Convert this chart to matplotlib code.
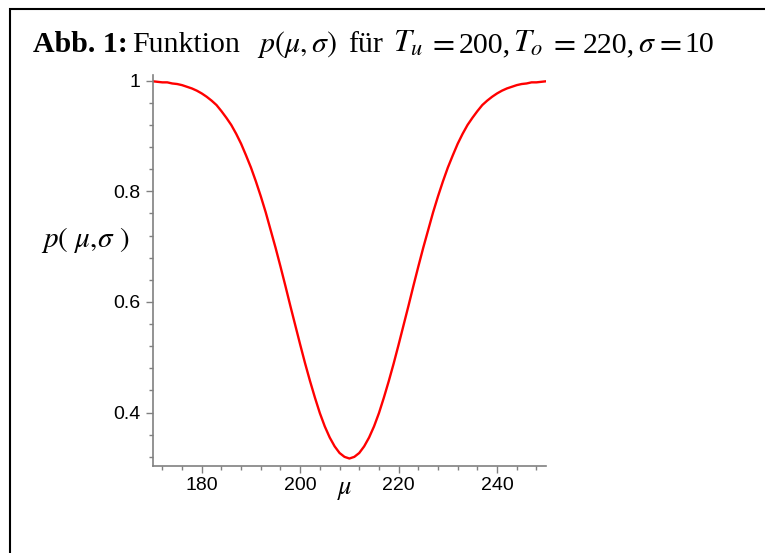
import matplotlib
matplotlib.use("Agg")
import matplotlib.pyplot as plt
from matplotlib.ticker import MultipleLocator
from matplotlib.patches import Rectangle

mu = list(range(170, 251))
p_left = [0.999, 0.998, 0.997, 0.997, 0.995, 0.994, 0.992, 0.989, 0.986, 0.982,
          0.977, 0.971, 0.964, 0.956, 0.945, 0.933, 0.920, 0.904, 0.886, 0.865,
          0.843, 0.818, 0.791, 0.762, 0.730, 0.698, 0.664, 0.629, 0.593, 0.558,
          0.523, 0.489, 0.457, 0.427, 0.399, 0.375, 0.355, 0.339, 0.327, 0.320]
p_min = [0.317]
p = p_left + p_min + p_left[::-1]

xticks = [180, 200, 220, 240]
yticks = [0.4, 0.6, 0.8, 1.0]
ytick_labels = ["0.4", "0.6", "0.8", "1"]

plt.rcParams['mathtext.fontset'] = 'stix'
plt.rcParams['font.family'] = ['Liberation Serif', 'DejaVu Serif']

fig = plt.figure(figsize=(7.65, 5.53), dpi=100)
W, H = 765, 553
fig.patches.append(Rectangle((10 / W, -0.1), 1.2, 1 - 9.5 / H + 0.1, transform=fig.transFigure,
                             fill=False, edgecolor='black', linewidth=1.5))

ax = fig.add_axes([152.5 / W, 1 - 465.7 / H, (546.3 - 152.5) / W, (465.7 - 75) / H])
ax.plot(mu, p, color='#ff0000', linewidth=1.7)
ax.set_xlim(170, 250)
ax.set_ylim(0.304, 1.0103)
for s in ['top', 'right']:
    ax.spines[s].set_visible(False)
for s in ['left', 'bottom']:
    ax.spines[s].set_color('#808080')
    ax.spines[s].set_linewidth(1.2)
ax.set_xticks(xticks)
ax.set_xticklabels([str(t) for t in xticks])
ax.set_yticks(yticks)
ax.set_yticklabels(ytick_labels)
ax.xaxis.set_minor_locator(MultipleLocator(4))
ax.yaxis.set_minor_locator(MultipleLocator(0.04))
ax.tick_params(which='both', colors='#808080', labelcolor='black', width=1)
ax.tick_params(which='major', length=5, labelsize=14)
ax.tick_params(which='minor', length=3)
for lab in ax.get_xticklabels() + ax.get_yticklabels():
    lab.set_family('Liberation Sans')
ax.tick_params(axis='x', pad=3)

title_fs = 21.5
math_fs = 23
base_y = 1 - 52 / H
pieces = [
    (33, "Abb. 1:", 'bold', title_fs),
    (132, "Funktion", 'normal', title_fs),
    (257, r"$p(\mu,\sigma)$", 'normal', title_fs),
    (348, "für", 'normal', title_fs),
    (393, r"$T_u$", 'normal', math_fs),
    (428, r"$=$", 'normal', math_fs),
    (459, "200,", 'normal', title_fs),
    (513, r"$T_o$", 'normal', math_fs),
    (549, r"$=$", 'normal', math_fs),
    (583, "220,", 'normal', title_fs),
    (638, r"$\sigma$", 'normal', title_fs),
    (655, r"$=$", 'normal', math_fs),
    (684, "10", 'normal', title_fs),
]
for x, s, w, fs in pieces:
    fig.text(x / W, base_y, s, fontsize=fs, weight=w, ha='left', va='baseline')

fig.text(85 / W, 1 - 240 / H, r"$p(\ \mu,\!\sigma\ )$", fontsize=21, ha='center', va='center')
fig.text(345 / W, 1 - 491 / H, r"$\mu$", fontsize=19, ha='center', va='center')

fig.savefig("out.png", dpi=100)
